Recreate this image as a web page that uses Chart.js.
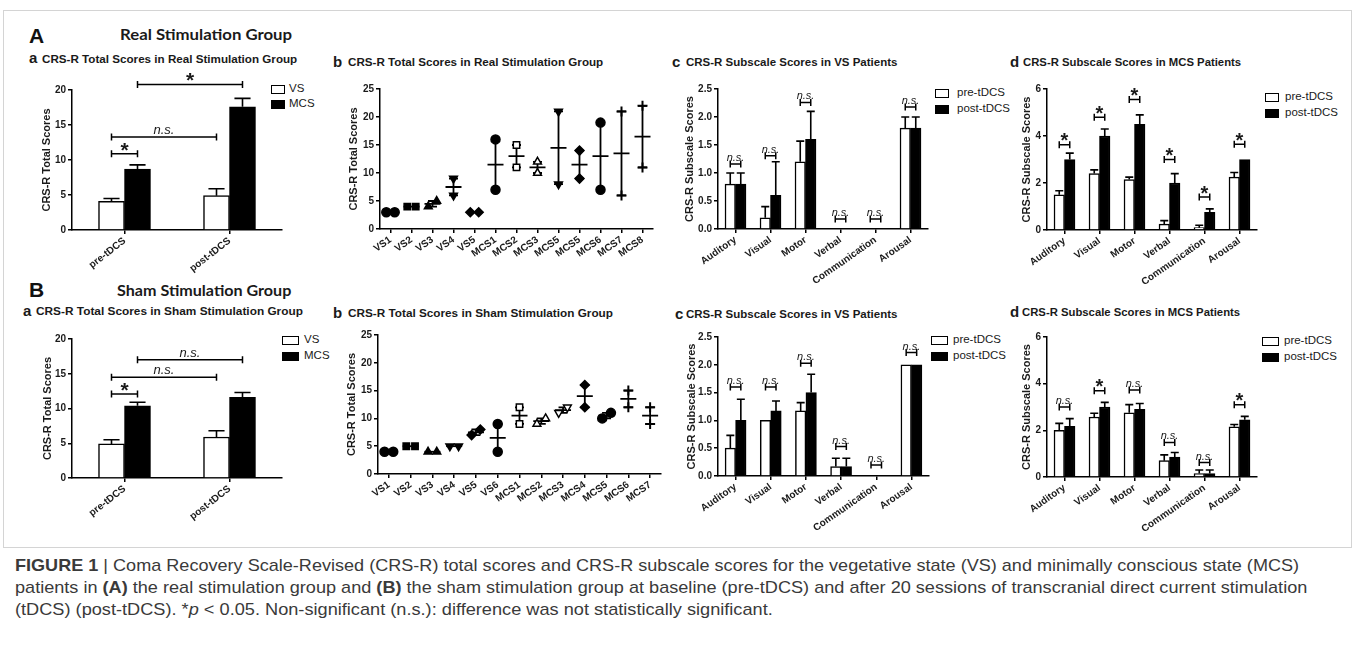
<!DOCTYPE html>
<html>
<head>
<meta charset="utf-8">
<script src="https://cdn.jsdelivr.net/npm/chart.js@4.4.1/dist/chart.umd.min.js"></script>
<style>
  body { margin:0; width:1358px; height:648px; position:relative; overflow:hidden; background:#fff;
         font-family:"Liberation Sans", Arial, sans-serif; color:#1a1a1a; }
  .t { position:absolute; white-space:nowrap; line-height:1.2; transform-origin:0 50%; }
  .big { font-size:21px; font-weight:bold; color:#111; }
  .hdr { font-family:Lato, "Liberation Sans", sans-serif; font-size:15px; font-weight:bold; }
  .pl { font-size:15px; font-weight:bold; }
  .pt { font-size:11px; font-weight:bold; }
  .lg { font-size:11.5px; }
  .cap { font-size:17px; color:#3a3a3a; }
  .sw { position:absolute; border:1.5px solid #000; box-sizing:border-box; height:9px; }
  #frame { position:absolute; left:3px; top:10px; width:1349px; height:538px; border:1px solid #d4d4d4; box-sizing:border-box; }
  canvas { position:absolute; }
</style>
</head>
<body>
<div id="frame"></div>
<script>
// ---------- data ----------
const totalCats = ['pre-tDCS', 'post-tDCS'];
const groupNames = ['VS', 'MCS'];
const realVS = [4.1, 4.9],   realVSsem = [0.4, 1.0];
const realMCS = [8.7, 17.6], realMCSsem = [0.6, 1.2];
const shamVS = [4.9, 5.9],   shamVSsem = [0.6, 0.9];
const shamMCS = [10.4, 11.6], shamMCSsem = [0.5, 0.7];
// [fromDataset, fromIndex, toDataset, toIndex, y, text]
const realTotalSig = [[0,0,1,0,10.9,'*'], [0,0,0,1,13.3,'n.s.'], [1,0,1,1,20.8,'*']];
const shamTotalSig = [[0,0,1,0,12.1,'*'], [0,0,0,1,14.5,'n.s.'], [1,0,1,1,17.0,'n.s.']];

const realSubj = ['VS1','VS2','VS3','VS4','VS5','MCS1','MCS2','MCS3','MCS5','MCS5','MCS6','MCS7','MCS8'];
const realPre  = [3, 4, 4, 6, 3, 7, 11, 10, 8, 9, 7, 6, 11];
const realPost = [3, 4, 5, 9, 3, 16, 15, 12, 21, 14, 19, 21, 22];
const shamSubj = ['VS1','VS2','VS3','VS4','VS5','VS6','MCS1','MCS2','MCS3','MCS4','MCS5','MCS6','MCS7'];
const shamPre  = [4, 5, 4, 5, 7, 4, 9, 9, 11, 12, 10, 12, 9];
const shamPost = [4, 5, 4, 5, 8, 9, 12, 10, 12, 16, 11, 15, 12];
const realMarks = ['circle','rect','triangle','triangleDown','rectRot','circle','rectOpen','triangleOpen','triangleDown','rectRot','circle','cross','cross'];
const shamMarks = ['circle','rect','triangle','triangleDown','rectRot','circle','rectOpen','triangleOpen','triangleDownOpen','rectRot','circle','cross','cross'];

const subCats = ['Auditory', 'Visual', 'Motor', 'Verbal', 'Communication', 'Arousal'];
const phaseNames = ['pre-tDCS', 'post-tDCS'];
const realVSPre   = [0.8, 0.2, 1.2, 0, 0, 1.8],   realVSPreSem   = [0.2, 0.2, 0.37, 0, 0, 0.2];
const realVSPost  = [0.8, 0.6, 1.6, 0, 0, 1.8],   realVSPostSem  = [0.2, 0.6, 0.5, 0, 0, 0.2];
const realVSSig   = [1.16, 1.31, 2.26, 0.18, 0.18, 2.18];
const realVSSigT  = ['n.s.', 'n.s.', 'n.s.', 'n.s.', 'n.s.', 'n.s.'];
const realMCSPre  = [1.5, 2.4, 2.15, 0.25, 0.1, 2.25], realMCSPreSem  = [0.17, 0.16, 0.1, 0.15, 0.1, 0.2];
const realMCSPost = [3.0, 4.0, 4.5, 2.0, 0.75, 3.0],   realMCSPostSem = [0.27, 0.3, 0.4, 0.4, 0.15, 0];
const realMCSSig  = [3.63, 4.8, 5.55, 3.0, 1.4, 3.65];
const realMCSSigT = ['*', '*', '*', '*', '*', '*'];
const shamVSPre   = [0.5, 1.0, 1.17, 0.17, 0, 2.0], shamVSPreSem  = [0.23, 0, 0.15, 0.15, 0, 0];
const shamVSPost  = [1.0, 1.17, 1.5, 0.17, 0, 2.0], shamVSPostSem = [0.38, 0.18, 0.33, 0.15, 0, 0];
const shamVSSig   = [1.6, 1.6, 2.03, 0.53, 0.2, 2.22];
const shamVSSigT  = ['n.s.', 'n.s.', 'n.s.', 'n.s.', 'n.s.', 'n.s.'];
const shamMCSPre  = [2.0, 2.57, 2.75, 0.7, 0.15, 2.15], shamMCSPreSem  = [0.3, 0.16, 0.35, 0.25, 0.15, 0.1];
const shamMCSPost = [2.17, 3.0, 2.9, 0.85, 0.15, 2.45], shamMCSPostSem = [0.33, 0.2, 0.25, 0.2, 0.15, 0.15];
const shamMCSSig  = [3.0, 3.7, 3.73, 1.48, 0.62, 3.1];
const shamMCSSigT = ['n.s.', '*', 'n.s.', 'n.s.', 'n.s.', '*'];

// ---------- layout ----------
const AXW = 45, PT = 24, PR = 8, XH = 62;
const FONT = "'Liberation Sans', Arial, Helvetica, sans-serif";
Chart.defaults.font.family = FONT;
Chart.defaults.color = '#1a1a1a';

function label(html, x, y, cls, w) {
  const d = document.createElement('div');
  d.className = 't ' + cls;
  d.innerHTML = html;
  d.style.left = x + 'px';
  d.style.top = y + 'px';
  document.body.appendChild(d);
  const k = w ? w / d.offsetWidth : 1;
  d.style.transform = 'translateY(-50%) scaleX(' + k + ')';
  return d;
}

function legend(x, y, fill, text, bw, tx) {
  const s = document.createElement('div');
  s.className = 'sw';
  s.style.left = x + 'px'; s.style.top = (y - 4.5) + 'px';
  s.style.width = bw + 'px'; s.style.background = fill;
  document.body.appendChild(s);
  label(text, tx, y, 'lg');
}

function makeCanvas(g) {
  const c = document.createElement('canvas');
  const w = g.x1 - g.x0 + AXW + PR, h = g.y0 - g.yTop + PT + XH;
  c.width = w; c.height = h;
  c.style.width = w + 'px'; c.style.height = h + 'px';
  c.style.left = (g.x0 - AXW) + 'px'; c.style.top = (g.yTop - PT) + 'px';
  document.body.appendChild(c);
  return c;
}

function axisY(g, max, step, title, dec) {
  return {
    min: 0, max: max,
    ticks: { stepSize: step, font: { size: 10, weight: 'bold' }, padding: 2,
             callback: v => dec ? v.toFixed(1) : v },
    grid: { drawOnChartArea: false, tickLength: 4, color: '#000', lineWidth: 1.5 },
    border: { color: '#000', width: 1.5 },
    title: { display: true, text: title, font: { size: 11, weight: 'bold' },
             padding: { top: g.tx - (g.x0 - AXW) - 6.6, bottom: 0 } },
    afterFit: s => { s.width = AXW; }
  };
}

function axisX(rot) {
  return {
    type: 'category',
    ticks: { font: { size: 10, weight: 'bold' }, minRotation: rot, maxRotation: rot, autoSkip: false, padding: 1 },
    grid: { offset: false, drawOnChartArea: false, tickLength: 4, color: '#000', lineWidth: 1.5 },
    border: { color: '#000', width: 1.5 },
    afterFit: s => { s.height = XH; }
  };
}

const errorBars = {
  id: 'errorBars',
  afterDatasetsDraw(chart) {
    const ctx = chart.ctx, ys = chart.scales.y;
    chart.data.datasets.forEach((ds, d) => {
      if (!ds.sem) return;
      chart.getDatasetMeta(d).data.forEach((bar, i) => {
        if (!ds.sem[i]) return;
        const yt = ys.getPixelForValue(ds.data[i] + ds.sem[i]);
        const cw = Math.max(8, bar.width * 0.62) / 2;
        ctx.save();
        ctx.strokeStyle = '#000'; ctx.lineWidth = 1.6;
        ctx.beginPath();
        ctx.moveTo(bar.x, bar.y); ctx.lineTo(bar.x, yt);
        ctx.moveTo(bar.x - cw, yt); ctx.lineTo(bar.x + cw, yt);
        ctx.stroke();
        ctx.restore();
      });
    });
  }
};

const brackets = {
  id: 'brackets',
  afterDatasetsDraw(chart, args, opts) {
    const ctx = chart.ctx, ys = chart.scales.y;
    (opts.list || []).forEach(b => {
      const p = chart.getDatasetMeta(b[0]).data[b[1]];
      const q = chart.getDatasetMeta(b[2]).data[b[3]];
      const y = ys.getPixelForValue(b[4]);
      ctx.save();
      ctx.strokeStyle = '#000'; ctx.lineWidth = 1.5;
      ctx.beginPath();
      ctx.moveTo(p.x, y); ctx.lineTo(q.x, y);
      ctx.moveTo(p.x, y - 3.5); ctx.lineTo(p.x, y + 3.5);
      ctx.moveTo(q.x, y - 3.5); ctx.lineTo(q.x, y + 3.5);
      ctx.stroke();
      ctx.fillStyle = '#1a1a1a'; ctx.textAlign = 'center'; ctx.textBaseline = 'alphabetic';
      const mx = (p.x + q.x) / 2;
      if (b[5] === '*') {
        ctx.font = 'bold ' + opts.star + 'px ' + FONT;
        ctx.fillText('*', mx, y + opts.star * 0.14);
      } else {
        ctx.font = 'italic ' + opts.ns + 'px ' + FONT;
        ctx.fillText(b[5], mx, y - 3);
      }
      ctx.restore();
    });
  }
};

const ranges = {
  id: 'ranges',
  beforeDatasetsDraw(chart, args, opts) {
    const ctx = chart.ctx, xs = chart.scales.x, ys = chart.scales.y;
    ctx.save();
    ctx.strokeStyle = '#000'; ctx.lineWidth = 1.8;
    opts.pre.forEach((a, i) => {
      const b = opts.post[i];
      const x = xs.getPixelForValue(i);
      const lo = ys.getPixelForValue(Math.min(a, b)), hi = ys.getPixelForValue(Math.max(a, b));
      const m = ys.getPixelForValue((a + b) / 2);
      ctx.beginPath();
      if (a !== b) {
        ctx.moveTo(x, lo); ctx.lineTo(x, hi);
        ctx.moveTo(x - 4.5, lo); ctx.lineTo(x + 4.5, lo);
        ctx.moveTo(x - 4.5, hi); ctx.lineTo(x + 4.5, hi);
      }
      ctx.moveTo(x - 8, m); ctx.lineTo(x + 8, m);
      ctx.stroke();
    });
    ctx.restore();
  }
};

function barChart(g, cats, names, vals, sems, fills, yMax, yStep, yTitle, dec, sig, o) {
  new Chart(makeCanvas(g), {
    type: 'bar',
    data: {
      labels: cats,
      datasets: vals.map((v, k) => ({
        label: names[k], data: v, sem: sems[k],
        backgroundColor: fills[k], borderColor: '#000', borderWidth: 1.5,
        barThickness: o.bar, categoryPercentage: o.cat, barPercentage: 1
      }))
    },
    options: {
      responsive: false, animation: false, devicePixelRatio: 1,
      layout: { padding: { top: PT, right: PR, left: 0, bottom: 0 } },
      plugins: { legend: { display: false }, tooltip: { enabled: false },
                 brackets: { list: sig, ns: o.ns, star: o.star } },
      scales: { x: axisX(o.rot), y: axisY(g, yMax, yStep, yTitle, dec) }
    },
    plugins: [errorBars, brackets]
  });
}

function subSig(ys, ts) {
  return ys.map((y, i) => [0, i, 1, i, y, ts[i]]);
}

function dotChart(g, subj, pre, post, marks) {
  const spread = pre.map((a, i) => Math.abs(a - post[i]) <= 1 ? 0.2 : 0);
  const shape = m => m.replace('Open', '').replace('Down', '');
  const mk = (vals, sgn) => ({
    data: vals.map((v, i) => ({ x: i + sgn * spread[i], y: v })),
    pointStyle: marks.map(shape),
    rotation: marks.map(m => m.includes('Down') ? 180 : 0),
    pointBackgroundColor: marks.map(m => m.includes('Open') ? '#fff' : '#000'),
    pointBorderColor: '#000',
    pointBorderWidth: marks.map(m => m === 'cross' ? 2 : 1.5),
    pointRadius: marks.map(m => m === 'cross' ? 5 : 4.5)
  });
  const x = axisX(35);
  x.type = 'linear'; x.min = -0.5; x.max = subj.length - 0.5;
  x.afterBuildTicks = s => { s.ticks = subj.map((_, i) => ({ value: i })); };
  x.ticks.callback = v => subj[Math.round(v)];
  new Chart(makeCanvas(g), {
    type: 'scatter',
    data: { datasets: [mk(pre, -1), mk(post, 1)] },
    options: {
      responsive: false, animation: false, devicePixelRatio: 1,
      layout: { padding: { top: PT, right: PR, left: 0, bottom: 0 } },
      plugins: { legend: { display: false }, tooltip: { enabled: false },
                 ranges: { pre: pre, post: post } },
      scales: { x: x, y: axisY(g, 25, 5, 'CRS-R Total Scores', false) }
    },
    plugins: [ranges]
  });
}

// ---------- texts ----------
label('A', 29, 36, 'big');
label('Real Stimulation Group', 120, 34, 'hdr', 172);
label('B', 29, 290, 'big');
label('Sham Stimulation Group', 117, 290, 'hdr', 174);

label('a', 29, 58, 'pl');    label('CRS-R Total Scores in Real Stimulation Group', 42, 60, 'pt', 255);
label('b', 333, 62, 'pl');   label('CRS-R Total Scores in Real Stimulation Group', 348, 63, 'pt', 255);
label('c', 672, 62, 'pl');   label('CRS-R Subscale Scores in VS Patients', 686, 63, 'pt', 211);
label('d', 1010, 62, 'pl');  label('CRS-R Subscale Scores in MCS Patients', 1023, 63, 'pt', 218);
label('a', 23, 311, 'pl');   label('CRS-R Total Scores in Sham Stimulation Group', 36, 312, 'pt', 267);
label('b', 333, 313, 'pl');  label('CRS-R Total Scores in Sham Stimulation Group', 348, 314, 'pt', 265);
label('c', 675, 314, 'pl');  label('CRS-R Subscale Scores in VS Patients', 686, 315, 'pt', 211);
label('d', 1010, 312, 'pl'); label('CRS-R Subscale Scores in MCS Patients', 1022, 313, 'pt', 218);

legend(271, 89, '#fff', groupNames[0], 14, 289);
legend(271, 104, '#000', groupNames[1], 14, 289);
legend(282, 340, '#fff', groupNames[0], 17, 304);
legend(282, 356, '#000', groupNames[1], 17, 304);
legend(935, 93, '#fff', phaseNames[0], 14, 957);
legend(935, 109, '#000', phaseNames[1], 14, 957);
legend(931, 340, '#fff', phaseNames[0], 17, 953);
legend(931, 356, '#000', phaseNames[1], 17, 953);
legend(1265, 97, '#fff', phaseNames[0], 14, 1285);
legend(1265, 113, '#000', phaseNames[1], 14, 1285);
legend(1262, 341, '#fff', phaseNames[0], 17, 1284);
legend(1262, 357, '#000', phaseNames[1], 17, 1284);

label('<b>FIGURE 1</b> | Coma Recovery Scale-Revised (CRS-R) total scores and CRS-R subscale scores for the vegetative state (VS) and minimally conscious state (MCS)', 15, 566, 'cap', 1284);
label('patients in <b>(A)</b> the real stimulation group and <b>(B)</b> the sham stimulation group at baseline (pre-tDCS) and after 20 sessions of transcranial direct current stimulation', 15, 588, 'cap', 1292);
label('(tDCS) (post-tDCS). *<i>p</i> &lt; 0.05. Non-significant (n.s.): difference was not statistically significant.', 15, 610, 'cap', 758);

// ---------- charts ----------
const totalOpt = { bar: 26, cat: 0.752, rot: 38, ns: 13, star: 21 };
const subOpt = { bar: 10.5, cat: 0.743, rot: 35, ns: 11, star: 20 };

barChart({ x0: 71.5, x1: 281.5, yTop: 90, y0: 230, tx: 46 }, totalCats, groupNames,
  [realVS, realMCS], [realVSsem, realMCSsem], ['#fff', '#000'], 20, 5, 'CRS-R Total Scores', false, realTotalSig, totalOpt);
dotChart({ x0: 379.5, x1: 652.5, yTop: 89, y0: 229, tx: 353 }, realSubj, realPre, realPost, realMarks);
barChart({ x0: 718, x1: 928, yTop: 89, y0: 229, tx: 690 }, subCats, phaseNames,
  [realVSPre, realVSPost], [realVSPreSem, realVSPostSem], ['#fff', '#000'], 2.5, 0.5, 'CRS-R Subscale Scores', true, subSig(realVSSig, realVSSigT), subOpt);
barChart({ x0: 1047, x1: 1257, yTop: 89, y0: 230, tx: 1027 }, subCats, phaseNames,
  [realMCSPre, realMCSPost], [realMCSPreSem, realMCSPostSem], ['#fff', '#000'], 6, 2, 'CRS-R Subscale Scores', false, subSig(realMCSSig, realMCSSigT), subOpt);

barChart({ x0: 71.5, x1: 281.5, yTop: 339, y0: 478, tx: 47 }, totalCats, groupNames,
  [shamVS, shamMCS], [shamVSsem, shamMCSsem], ['#fff', '#000'], 20, 5, 'CRS-R Total Scores', false, shamTotalSig, totalOpt);
dotChart({ x0: 378, x1: 661, yTop: 335, y0: 474, tx: 352 }, shamSubj, shamPre, shamPost, shamMarks);
barChart({ x0: 718, x1: 929, yTop: 337, y0: 476, tx: 692 }, subCats, phaseNames,
  [shamVSPre, shamVSPost], [shamVSPreSem, shamVSPostSem], ['#fff', '#000'], 2.5, 0.5, 'CRS-R Subscale Scores', true, subSig(shamVSSig, shamVSSigT), subOpt);
barChart({ x0: 1047, x1: 1257, yTop: 337, y0: 477, tx: 1027 }, subCats, phaseNames,
  [shamMCSPre, shamMCSPost], [shamMCSPreSem, shamMCSPostSem], ['#fff', '#000'], 6, 2, 'CRS-R Subscale Scores', false, subSig(shamMCSSig, shamMCSSigT), subOpt);
</script>
</body>
</html>
